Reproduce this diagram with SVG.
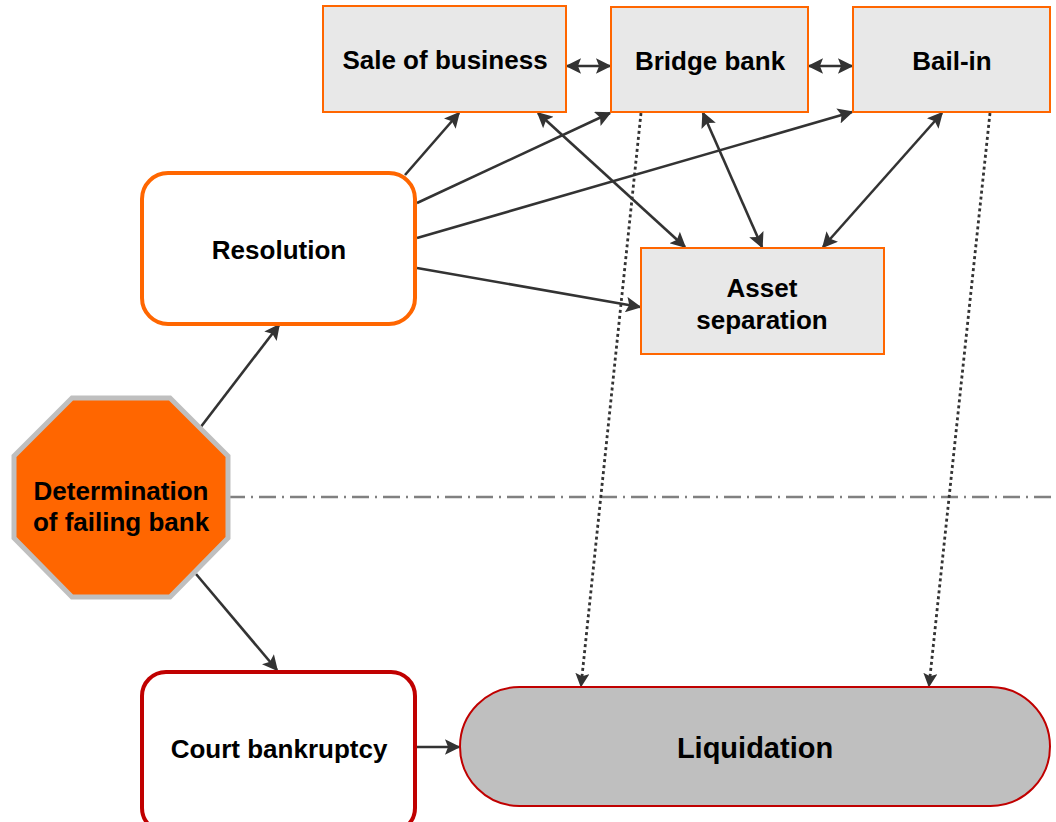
<svg xmlns="http://www.w3.org/2000/svg" width="1056" height="822" viewBox="0 0 1056 822">
  <style>
    .lbl { font-family: "Liberation Sans", Arial, sans-serif; font-weight: bold; font-size: 26px; fill: #000; text-anchor: middle; }
    .opt { fill: #E8E8E8; stroke: #FF6600; stroke-width: 2; }
    .edge { fill: none; stroke: #333333; stroke-width: 2.6; }
    .dot { fill: none; stroke: #333333; stroke-width: 2.8; stroke-dasharray: 3 3; }
  </style>
  <defs>
    <marker id="arrowEnd" viewBox="0 0 10 10" refX="9" refY="5" markerWidth="6.5" markerHeight="6" markerUnits="strokeWidth" orient="auto">
      <path d="M0,0 L10,5 L0,10 L2,5 Z" fill="#333333"/>
    </marker>
    <marker id="arrowStart" viewBox="0 0 10 10" refX="1" refY="5" markerWidth="6.5" markerHeight="6" markerUnits="strokeWidth" orient="auto">
      <path d="M10,0 L0,5 L10,10 L8,5 Z" fill="#333333"/>
    </marker>
    <marker id="arrowSmall" viewBox="0 0 10 10" refX="9" refY="5" markerWidth="5" markerHeight="5" markerUnits="strokeWidth" orient="auto">
      <path d="M0,0 L10,5 L0,10 L2,5 Z" fill="#333333"/>
    </marker>
  </defs>

  <rect width="1056" height="822" fill="#FFFFFF"/>

  <!-- boundary between resolution and insolvency paths -->
  <line x1="228" y1="497" x2="1056" y2="497" stroke="#808080" stroke-width="2.5" stroke-dasharray="17 6 2 6"/>

  <g id="connectors">
    <line class="edge" x1="405" y1="175" x2="459" y2="113" marker-end="url(#arrowEnd)"/>
    <line class="edge" x1="417" y1="203" x2="610" y2="113" marker-end="url(#arrowEnd)"/>
    <line class="edge" x1="417" y1="238" x2="852" y2="112" marker-end="url(#arrowEnd)"/>
    <line class="edge" x1="417" y1="268" x2="640" y2="307" marker-end="url(#arrowEnd)"/>
    <line class="edge" x1="538" y1="113" x2="685" y2="247" marker-start="url(#arrowStart)" marker-end="url(#arrowEnd)"/>
    <line class="edge" x1="703" y1="113" x2="762" y2="247" marker-start="url(#arrowStart)" marker-end="url(#arrowEnd)"/>
    <line class="edge" x1="942" y1="113" x2="823" y2="247" marker-start="url(#arrowStart)" marker-end="url(#arrowEnd)"/>
    <line class="edge" x1="567" y1="66" x2="610" y2="66" marker-start="url(#arrowStart)" marker-end="url(#arrowEnd)"/>
    <line class="edge" x1="809" y1="66" x2="852" y2="66" marker-start="url(#arrowStart)" marker-end="url(#arrowEnd)"/>
    <line class="edge" x1="200" y1="428" x2="279" y2="325" marker-end="url(#arrowEnd)"/>
    <line class="edge" x1="196" y1="574" x2="277" y2="670" marker-end="url(#arrowEnd)"/>
    <line class="edge" x1="417" y1="747" x2="459" y2="747" marker-end="url(#arrowEnd)"/>
    <line class="dot" x1="641" y1="113" x2="581" y2="686" marker-end="url(#arrowSmall)"/>
    <line class="dot" x1="990" y1="113" x2="929" y2="686" marker-end="url(#arrowSmall)"/>
  </g>

  <g id="sale-of-business">
    <rect class="opt" x="323" y="6" width="243" height="106"/>
    <text class="lbl" x="445" y="69">Sale of business</text>
  </g>
  <g id="bridge-bank">
    <rect class="opt" x="611" y="7" width="197" height="105"/>
    <text class="lbl" x="710" y="70">Bridge bank</text>
  </g>
  <g id="bail-in">
    <rect class="opt" x="853" y="7" width="197" height="105"/>
    <text class="lbl" x="952" y="70">Bail-in</text>
  </g>
  <g id="asset-separation">
    <rect class="opt" x="641" y="248" width="243" height="106"/>
    <text class="lbl" x="762" y="297">Asset</text>
    <text class="lbl" x="762" y="329">separation</text>
  </g>
  <g id="resolution">
    <rect x="142" y="173" width="273" height="151" rx="26" ry="26" fill="#FFFFFF" stroke="#FF6600" stroke-width="4"/>
    <text class="lbl" x="279" y="259">Resolution</text>
  </g>
  <g id="determination">
    <polygon points="72,398 170,398 228,456 228,538 170,597 72,597 14,538 14,456" fill="#FF6600" stroke="#BFBFBF" stroke-width="5" stroke-linejoin="miter"/>
    <text class="lbl" x="121" y="500">Determination</text>
    <text class="lbl" x="121" y="531">of failing bank</text>
  </g>
  <g id="court-bankruptcy">
    <rect x="142" y="672" width="273" height="160" rx="24" ry="24" fill="#FFFFFF" stroke="#C00000" stroke-width="4"/>
    <text class="lbl" x="279" y="758">Court bankruptcy</text>
  </g>
  <g id="liquidation">
    <rect x="460" y="687" width="590" height="119" rx="59.5" ry="59.5" fill="#BFBFBF" stroke="#C00000" stroke-width="2"/>
    <text class="lbl" x="755" y="758" style="font-size:29px">Liquidation</text>
  </g>
</svg>
